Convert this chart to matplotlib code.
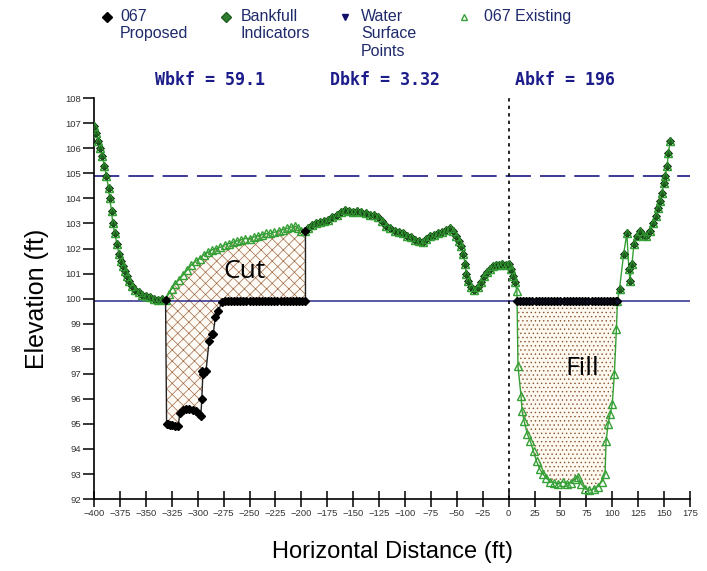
import numpy as np
import matplotlib
matplotlib.use("Agg")
import matplotlib.pyplot as plt

plt.rcParams['font.family'] = ['Liberation Sans', 'DejaVu Sans']
plt.rcParams['hatch.linewidth'] = 0.5

# existing ground profile (station ft, elevation ft)
exist_x = [-400, -398, -396, -394, -392, -390, -388, -386, -385, -383, -382, -380,
           -378, -376, -374, -372, -370, -368, -366, -363, -360, -357, -354, -350,
           -346, -342, -338, -334, -331, -328, -325, -322, -318, -314, -310, -306,
           -302, -298, -294, -290, -286, -282, -278, -274, -270, -266, -262, -258,
           -254, -250, -246, -242, -238, -234, -230, -226, -222, -218, -214, -210,
           -206, -203, -200, -196, -194, -190, -186, -182, -178, -174, -170, -166,
           -162, -158, -154, -150, -146, -142, -138, -134, -130, -126, -122, -118,
           -114, -110, -106, -102, -98, -94, -90, -86, -83, -80, -76, -72, -68, -64,
           -60, -57, -54, -51, -48, -46, -44, -42, -41, -39, -36, -33, -30, -27, -24,
           -21, -18, -15, -12, -9, -6, -3, 0, 2, 4, 6, 8,
           9, 12, 13, 15, 18, 21, 24, 27, 30, 33, 36, 40, 44, 48, 52, 56, 60, 64, 67,
           70, 74, 78, 82, 86, 90, 93, 94, 96, 98, 100, 102, 104, 105,
           107, 111, 114, 116, 117, 119, 121, 124, 127, 130, 133, 136, 139, 142, 144,
           146, 148, 149.5, 151, 153, 154, 156]
exist_z = [106.9, 106.6, 106.3, 106.0, 105.7, 105.3, 104.9, 104.4, 104.0, 103.5, 103.0, 102.6,
           102.2, 101.8, 101.5, 101.3, 101.1, 100.9, 100.7, 100.5, 100.35, 100.25, 100.15, 100.1,
           100.05, 100.0, 99.95, 100.0, 99.95, 100.2, 100.4, 100.6, 100.75, 100.95, 101.15, 101.35,
           101.5, 101.6, 101.75, 101.85, 101.95, 102.0, 102.05, 102.15, 102.2, 102.25, 102.3, 102.35,
           102.4, 102.4, 102.45, 102.5, 102.55, 102.6, 102.6, 102.65, 102.7, 102.75, 102.8, 102.85,
           102.9, 102.8, 102.7, 102.7, 102.8, 102.95, 103.0, 103.05, 103.1, 103.15, 103.25, 103.35,
           103.45, 103.55, 103.5, 103.45, 103.5, 103.45, 103.4, 103.35, 103.35, 103.25, 103.1, 102.9,
           102.8, 102.7, 102.65, 102.6, 102.5, 102.45, 102.35, 102.3, 102.25, 102.4, 102.5, 102.55, 102.6, 102.65,
           102.75, 102.8, 102.7, 102.5, 102.3, 102.1, 101.8, 101.4, 101.0, 100.7, 100.45, 100.35, 100.45, 100.65, 100.9,
           101.05, 101.2, 101.3, 101.35, 101.35, 101.4, 101.35, 101.4, 101.2, 100.9, 100.65, 100.3,
           97.3, 96.1, 95.5, 95.1, 94.6, 94.3, 93.9, 93.5, 93.2, 93.0, 92.85, 92.7, 92.65, 92.6, 92.7, 92.6, 92.65, 92.8, 92.9,
           92.6, 92.4, 92.35, 92.4, 92.5, 92.7, 93.0, 94.3, 95.0, 95.4, 95.8, 97.0, 98.8, 99.9,
           100.4, 101.8, 102.6, 101.2, 100.7, 101.4, 102.2, 102.5, 102.7, 102.55, 102.5, 102.7, 103.0, 103.3, 103.6,
           103.9, 104.2, 104.6, 104.9, 105.3, 105.8, 106.3]

# proposed grade in the cut section
cut_x = [-331, -330, -329, -327, -325, -322, -319, -317, -314, -311, -308, -305, -302,
         -299, -297, -296, -295, -296, -292, -289, -286, -285, -283, -280, -277, -274,
         -271, -268, -265, -262, -259, -256, -253, -250, -247, -244, -241, -238, -235,
         -232, -229, -226, -223, -220, -217, -214, -211, -208, -205, -202, -199, -196, -196]
cut_z = [99.95, 95.0, 95.0, 94.95, 94.95, 94.9, 94.9, 95.45, 95.55, 95.6, 95.6, 95.55, 95.5,
         95.4, 95.3, 96.0, 97.0, 97.1, 97.1, 98.3, 98.6, 98.6, 99.25, 99.5, 99.85, 99.9,
         99.9, 99.9, 99.9, 99.9, 99.9, 99.9, 99.9, 99.9, 99.9, 99.9, 99.9, 99.9, 99.9,
         99.9, 99.9, 99.9, 99.9, 99.9, 99.9, 99.9, 99.9, 99.9, 99.9, 99.9, 99.9, 99.9, 102.7]

# proposed grade in the fill section
fill_x = [8, 11, 14, 17, 20, 23, 26, 29, 32, 35, 38, 41, 44, 47, 50, 53, 56, 59, 62, 65,
          68, 71, 74, 77, 80, 83, 86, 89, 92, 95, 98, 101, 104, 105]
fill_z = [99.9] * len(fill_x)

bkf_elev = 99.9
fpa_elev = 104.9
stats = ["Wbkf = 59.1", "Dbkf = 3.32", "Abkf = 196"]
legend_labels = ["067\nProposed", "Bankfull\nIndicators", "Water\nSurface\nPoints", "067 Existing"]

exist_x = np.array(exist_x)
exist_z = np.array(exist_z)
cut_x = np.array(cut_x)
cut_z = np.array(cut_z)
fill_x = np.array(fill_x)
fill_z = np.array(fill_z)

green = '#35a035'
dkgreen = '#1e5f1e'
navy = '#2b2b8c'

fig = plt.figure(figsize=(7.07, 5.71), dpi=100)
ax = fig.add_axes([0.133, 0.126, 0.843, 0.702])

# cut area: between existing (top) and proposed (bottom)
m = (exist_x >= -331) & (exist_x <= -196)
poly_x = np.concatenate([exist_x[m], cut_x[::-1]])
poly_z = np.concatenate([exist_z[m], cut_z[::-1]])
ax.fill(poly_x, poly_z, facecolor='#fefbf6', edgecolor='#a06a45', hatch='xxx', linewidth=0, zorder=1)

# fill area: between proposed (top) and existing (bottom)
m2 = (exist_x >= 8) & (exist_x <= 105)
poly_x = np.concatenate([fill_x, exist_x[m2][::-1]])
poly_z = np.concatenate([fill_z, exist_z[m2][::-1]])
ax.fill(poly_x, poly_z, facecolor='#fdf8f0', edgecolor='#8a5530', hatch='....', linewidth=0, zorder=1)

ax.axhline(bkf_elev, color=navy, lw=1.1, zorder=2)
ax.axhline(fpa_elev, color=navy, lw=1.3, dashes=(14, 5), zorder=2)
ax.axvline(0, color='black', lw=1.2, ls=(0, (2, 2.5)), zorder=2)

ax.plot(exist_x, exist_z, color=green, lw=1.0, marker='^', ms=6, mfc='none',
        mec=green, mew=1.0, zorder=3)
outside = ~(m | m2)
ax.plot(exist_x[outside], exist_z[outside], ls='none', marker='D', ms=4.5,
        mfc=dkgreen, mec='#0d2a0d', mew=0.6, zorder=4)
ax.plot(exist_x[outside], exist_z[outside], ls='none', marker='^', ms=6, mfc='none',
        mec=green, mew=0.8, alpha=0.8, zorder=4)
ax.plot(cut_x, cut_z, color='#222222', lw=1.0, marker='D', ms=4.5, mfc='black', mec='black', zorder=5)
ax.plot(fill_x, fill_z, color='black', lw=1.0, marker='D', ms=4.5, mfc='#101030', mec='black', zorder=5)

ax.text(-255, 101.1, "Cut", fontsize=19, family=['Open Sans', 'DejaVu Sans'], ha='center', va='center', zorder=6)
ax.text(71, 97.2, "Fill", fontsize=19, family=['Open Sans', 'DejaVu Sans'], ha='center', va='center', zorder=6)

ax.set_xlim(-400, 175)
ax.set_ylim(92, 108)
ax.set_xticks(np.arange(-400, 176, 25))
ax.set_yticks(np.arange(92, 109, 1))
ax.spines['top'].set_visible(False)
ax.spines['right'].set_visible(False)
ax.spines['left'].set_linewidth(1.2)
ax.spines['bottom'].set_linewidth(1.2)
ax.tick_params(axis='x', direction='inout', length=11, width=1.1, labelsize=6.8, labelcolor='#333333', pad=2)
ax.tick_params(axis='y', direction='out', length=8, width=1.1, labelsize=6.8, labelcolor='#333333', pad=1)
ax.set_xlabel("Horizontal Distance (ft)", fontsize=17, labelpad=16)
ax.set_ylabel("Elevation (ft)", fontsize=18, labelpad=12)

# legend drawn in pixel coordinates on an overlay
lax = fig.add_axes([0, 0, 1, 1])
lax.set_xlim(0, 707)
lax.set_ylim(571, 0)
lax.axis('off')
leg_markers = [dict(marker='D', color='black', mfc='black'),
               dict(marker='D', color=dkgreen, mfc='#2e7d32'),
               dict(marker='v', color='#10106a', mfc='#10106a'),
               dict(marker='^', color=green, mfc='none')]
leg_mx = [107, 226, 345, 464]
leg_tx = [120, 241, 361, 484]
for lab, mk, mx, tx in zip(legend_labels, leg_markers, leg_mx, leg_tx):
    lax.plot([mx], [17], ls='none', ms=5, **mk)
    lax.text(tx, 9, lab, fontsize=11.5, color='#1f2a6b', va='top', ha='left', linespacing=1.2)

stat_x = [155, 330, 515]
for s, sx in zip(stats, stat_x):
    lax.text(sx, 80, s, fontsize=12, family='DejaVu Sans Mono', weight='bold',
             color='#1c1c8a', va='center', ha='left')

fig.savefig("out.png", dpi=100)
